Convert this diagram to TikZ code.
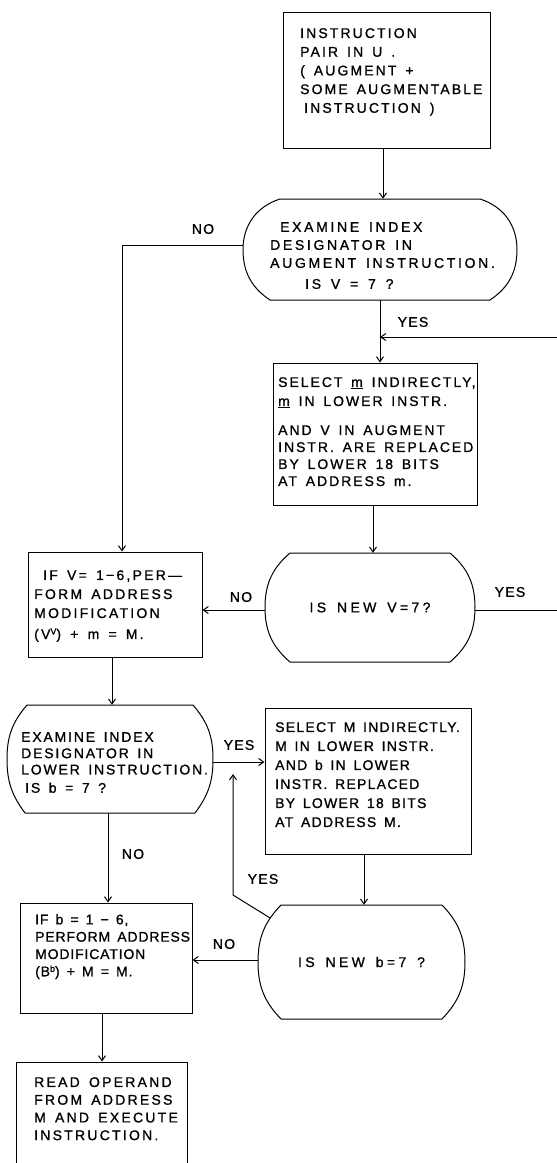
\documentclass[tikz,border=0pt]{standalone}
\usepackage{fontspec}
\setmainfont{Liberation Sans}[WordSpace=1.5,FakeBold=1.0]
\usetikzlibrary{arrows.meta,calc}
\newcommand\mysup[1]{\raisebox{0.6ex}{\fontsize{9}{9}\selectfont #1}}
\newcommand\decision[8]{%
  \pgfmathsetmacro\hh{(#5-#3)/2}%
  \pgfmathsetmacro\at{2*atan(#6/\hh)-90}%
  \pgfmathsetmacro\ab{90-2*atan(#7/\hh)}%
  \node[dnode,minimum width={#4-#2},minimum height={#5-#3}] (#1) at ({(#2+#4)/2},{(#3+#5)/2}) {#8};
  \draw[line,line join=round] ({#2+#6},#3) -- ({#4-#6},#3)
    to[out=\at,in=90] (#4,{(#3+#5)/2}) to[out=-90,in=\ab] ({#4-#7},#5)
    -- ({#2+#7},#5) to[out=180-\ab,in=-90] (#2,{(#3+#5)/2})
    to[out=90,in=180-\at] ({#2+#6},#3) -- cycle;}
\begin{document}
\begin{tikzpicture}[x=1pt,y=-1pt,
  line/.style={line width=1pt},
  arr/.style={line width=1pt,-{Straight Barb[length=5pt,width=7pt,line width=1pt]}},
  box/.style={draw,line width=1pt,rectangle,inner sep=0pt},
  dnode/.style={rectangle,inner sep=0pt,draw=none,font=\addfontfeatures{LetterSpace=24}\fontsize{14}{16}\selectfont},
  txt/.style 2 args={font=\addfontfeatures{LetterSpace=#1}\fontsize{14}{#2}\selectfont,align=left,inner sep=0pt,anchor=north west},
  lbl/.style={font=\addfontfeatures{LetterSpace=9}\fontsize{14}{15}\selectfont,inner sep=0pt}]
\useasboundingbox (0,0) rectangle (557,1163);

% rectangular boxes
\node[box,minimum width=207,minimum height=136] (top) at (386.5,80) {};
\node[box,minimum width=204,minimum height=142] (b2) at (375,434) {};
\node[box,minimum width=174,minimum height=105] (L1) at (115,604.5) {};
\node[box,minimum width=206,minimum height=146] (b3) at (368,781) {};
\node[box,minimum width=172,minimum height=110] (L2) at (106,958) {};
\node[box,minimum width=171,minimum height=118] (last) at (101.5,1121) {};

% decisions
\decision{d1}{243}{199}{517}{300}{37}{27}{}
\decision{d2}{265}{553}{475}{662}{25}{25}{IS NEW V=7?}
\decision{d3}{7}{705}{213}{813}{20}{18}{}
\decision{d4}{258}{905}{465}{1019}{23}{23}{IS NEW b=7 ?}

% texts
\node[txt={15}{18.7}] (top-t) at (300,28) {INSTRUCTION\\PAIR IN U .\\( AUGMENT +\\SOME AUGMENTABLE\\\hspace*{4pt}INSTRUCTION )};
\node[txt={19}{18}] (d1-t) at (270,222) {\hspace*{10pt}EXAMINE INDEX\\DESIGNATOR IN\\AUGMENT INSTRUCTION.\\[3pt]\hspace*{35pt}IS V = 7 ?};
\node[txt={14}{17}] (b2-t) at (278,377) {SELECT \underline{m} INDIRECTLY,\\[2pt]\underline{m} IN LOWER INSTR.\\[12pt]AND V IN AUGMENT\\INSTR. ARE REPLACED\\BY LOWER 18 BITS\\AT ADDRESS m.};
\node[txt={16}{19}] (L1-t) at (34,570) {\hspace*{9pt}IF V= 1−6,PER—\\FORM ADDRESS\\MODIFICATION\\[2pt](V\mysup{V}) + m = M.};
\node[txt={13}{16.3}] (d3-t) at (21,732) {EXAMINE INDEX\\DESIGNATOR IN\\LOWER INSTRUCTION.\\[2pt]\hspace*{4pt}IS b = 7 ?};
\node[txt={9}{19}] (b3-t) at (275,722) {SELECT M INDIRECTLY.\\M IN LOWER INSTR.\\AND b IN LOWER\\INSTR. REPLACED\\BY LOWER 18 BITS\\AT ADDRESS M.};
\node[txt={6}{17.3}] (L2-t) at (35,914) {IF b = 1 − 6,\\PERFORM ADDRESS\\MODIFICATION\\(B\mysup{b}) + M = M.};
\node[txt={16}{17.7}] (last-t) at (34,1077) {READ OPERAND\\FROM ADDRESS\\M AND EXECUTE\\INSTRUCTION.};

% labels
\node[lbl] (no1) at (203,229) {NO};
\node[lbl] (yes1) at (413,322) {YES};
\node[lbl] (yes2) at (510,592) {YES};
\node[lbl] (no2) at (241,597) {NO};
\node[lbl] (yes3) at (239,745) {YES};
\node[lbl] (no3) at (133,854) {NO};
\node[lbl] (yes4) at (263,879) {YES};
\node[lbl] (no4) at (224,944) {NO};

% free ends
\coordinate (loopA) at (560,337);
\coordinate (loopB) at (560,610);
\coordinate (yesbend) at (233,895);
\coordinate (yestip) at (233,774);

% connectors
\draw[arr] ([xshift=-3.5pt]top.south) -- ([xshift=-3.5pt]top.south |- d1.north);
\draw[arr] ([yshift=4.5pt]d1.west) -| ([xshift=7pt]L1.north);
\draw[arr] (d1.south) -- (d1.south |- b2.north);
\draw[arr] (loopA) -- (loopA -| d1.south);
\draw[arr] ([xshift=-2pt]b2.south) -- ([xshift=-2pt]b2.south |- d2.north);
\draw[line] ([yshift=-2.5pt]d2.east) -- ([yshift=-2.5pt]d2.east -| loopB);
\draw[arr] ([yshift=-2.5pt]d2.west) -- ([yshift=-2.5pt]d2.west -| L1.east);
\draw[arr] ([xshift=-3pt]L1.south) -- ([xshift=-3pt]L1.south |- d3.north);
\draw[arr] ([yshift=-3pt]d3.east) -- ([yshift=-3pt]d3.east -| b3.west);
\draw[arr] ([xshift=-2pt]d3.south) -- ([xshift=-2pt]d3.south |- L2.north);
\draw[arr] ([xshift=-4pt]b3.south) -- ([xshift=-4pt]b3.south |- d4.north);
\draw[arr] ([yshift=2pt]d4.west) -- ([yshift=2pt]d4.west -| L2.east);
\draw[arr] ([shift={(12pt,-13pt)}]d4.north west) -- (yesbend) -- (yestip);
\draw[arr] ([xshift=-4pt]L2.south) -- ([xshift=-4pt]L2.south |- last.north);
\end{tikzpicture}
\end{document}
